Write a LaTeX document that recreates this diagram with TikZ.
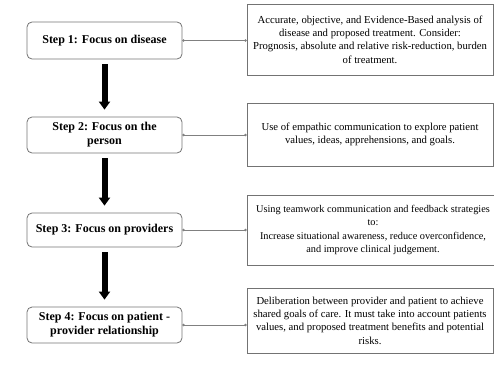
\documentclass[tikz,border=0pt]{standalone}
\usepackage{fontspec}
\setmainfont{Liberation Serif}
\usetikzlibrary{positioning,arrows.meta,calc}

\begin{document}
\begin{tikzpicture}[x=1pt,y=1pt,font=\fontsize{10.7}{13.3}\selectfont,
  stepbox/.style={draw=black!55,line width=.8pt,rounded corners=5pt,minimum width=155,
    align=center,font=\fontsize{12}{14}\selectfont\bfseries},
  notebox/.style={draw=black!55,line width=.8pt,minimum width=246,align=center},
  link/.style={draw=black!50,line width=.8pt,{Circle[length=2.2pt]}-{Circle[length=2.2pt]}},
  bigarrow/.style={line width=6pt,-{Triangle[width=11pt,length=8pt]},shorten <=5pt,shorten >=7pt}]
\useasboundingbox (0,0) rectangle (494,-364);
% Steps on the left.
\node[stepbox,minimum height=37] (s1) at (104.5,-40.5) {Step 1: Focus on disease};
\node[stepbox,minimum height=36] (s2) at (104.5,-135) {Step 2: Focus on the\\person};
\node[stepbox,minimum height=34] (s3) at (104.5,-230) {Step 3: Focus on providers};
\node[stepbox,minimum height=36] (s4) at (104.5,-325) {Step 4: Focus on patient -\\provider relationship};
% Descriptions on the right.
\node[notebox,minimum height=71] (d1) at (370,-39.5) {Accurate, objective, and Evidence-Based analysis of\\disease and proposed treatment. Consider:\\Prognosis, absolute and relative risk-reduction, burden\\of treatment.};
\node[notebox,minimum height=63] (d2) at (370,-134.5) {Use of empathic communication to explore patient\\values, ideas, apprehensions, and goals.};
\node[notebox,minimum height=70,minimum width=252,font=\fontsize{10.3}{13.3}\selectfont] (d3) at (373,-230) {Using teamwork communication and feedback strategies\\to:\\Increase situational awareness, reduce overconfidence,\\and improve clinical judgement.};
\node[notebox,minimum height=65] (d4) at (370,-320.5) {Deliberation between provider and patient to achieve\\shared goals of care. It must take into account patients\\values, and proposed treatment benefits and potential\\risks.};
% Step to description.
\foreach \i in {1,...,4}{
  \draw[link] (s\i.east) -- (d\i.west |- s\i.east);
}
% Step to next step.
\foreach \a/\b in {s1/s2,s2/s3,s3/s4}{
  \draw[bigarrow] (\a.south) -- (\b.north);
}
\end{tikzpicture}
\end{document}
